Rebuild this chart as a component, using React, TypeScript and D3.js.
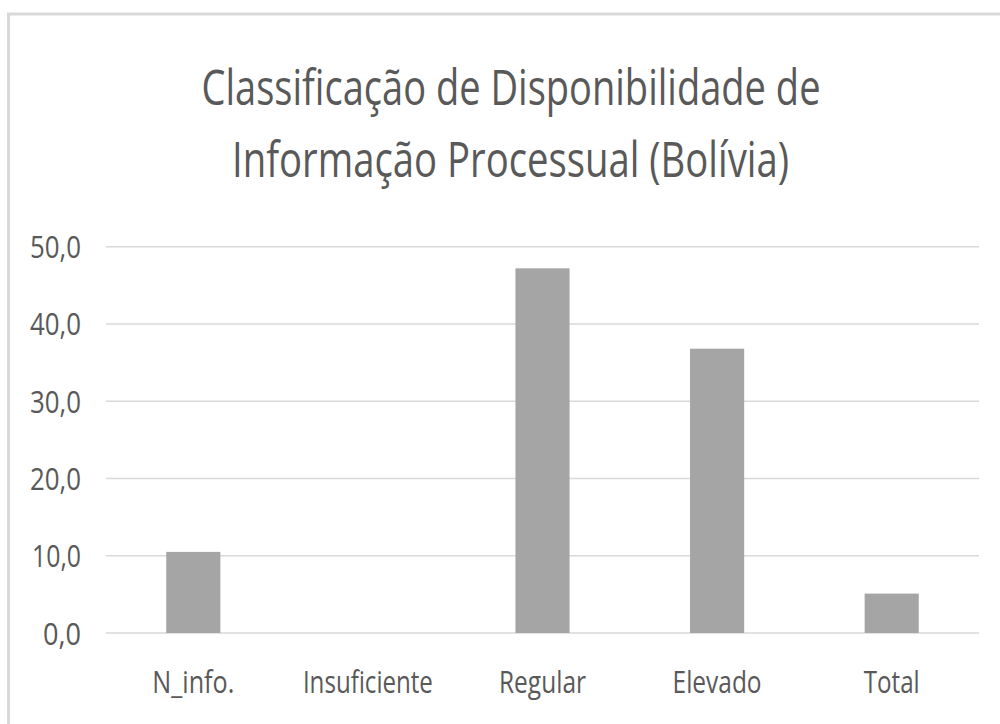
import React from "react";
import * as d3 from "d3";

const categories = ["N_info.", "Insuficiente", "Regular", "Elevado", "Total"];
const values = [10.5, 0, 47.2, 36.8, 5.1];
const yTicks = [0, 10, 20, 30, 40, 50];
const titleLines = ["Classificação de Disponibilidade de", "Informação Processual (Bolívia)"];
const labelWidths = [82, 130, 87, 89, 56];
const yLabelWidths = [38, 49, 51, 51, 51, 51];

const W = 1000;
const H = 724;
const textColor = "#595959";
const font = "'Open Sans', 'Noto Sans', sans-serif";

export default function App() {
  const x = d3.scaleBand<string>().domain(categories).range([106, 979]).padding(0);
  const y = d3.scaleLinear().domain([0, 50]).range([633, 246.7]);
  const barW = x.bandwidth() * 0.31;
  const fmt = (v: number) => d3.format(".1f")(v).replace(".", ",");

  return (
    <svg
      width={W}
      height={H}
      style={{ position: "absolute", left: 0, top: 0, background: "#fff" }}
    >
      <rect x={0} y={0} width={W} height={H} fill="#fff" />
      <rect x={8.5} y={14} width={1100} height={900} fill="none" stroke="#d9d9d9" strokeWidth={3} />
      <text
        x={511}
        y={105}
        textAnchor="middle"
        fontFamily={font}
        fontSize={50}
        fill={textColor}
        textLength={619}
        lengthAdjust="spacingAndGlyphs"
      >
        {titleLines[0]}
      </text>
      <text
        x={510.5}
        y={177}
        textAnchor="middle"
        fontFamily={font}
        fontSize={50}
        fill={textColor}
        textLength={557}
        lengthAdjust="spacingAndGlyphs"
      >
        {titleLines[1]}
      </text>
      {yTicks.map((t) => (
        <line
          key={"g" + t}
          x1={106}
          x2={979}
          y1={y(t)}
          y2={y(t)}
          stroke="#d9d9d9"
          strokeWidth={1.4}
        />
      ))}
      {yTicks.map((t, i) => (
        <text
          key={"yl" + t}
          x={81}
          y={y(t) + 11.5}
          textAnchor="end"
          fontFamily={font}
          fontSize={31}
          fill={textColor}
          textLength={yLabelWidths[i]}
          lengthAdjust="spacingAndGlyphs"
        >
          {fmt(t)}
        </text>
      ))}
      {categories.map((c, i) => {
        const cx = (x(c) as number) + x.bandwidth() / 2;
        return (
          <rect
            key={"b" + c}
            x={cx - barW / 2}
            y={y(values[i])}
            width={barW}
            height={y(0) - y(values[i])}
            fill="#a5a5a5"
          />
        );
      })}
      {categories.map((c, i) => {
        const cx = (x(c) as number) + x.bandwidth() / 2;
        return (
          <text
            key={"xl" + c}
            x={cx}
            y={693}
            textAnchor="middle"
            fontFamily={font}
            fontSize={31}
            fill={textColor}
            textLength={labelWidths[i]}
            lengthAdjust="spacingAndGlyphs"
          >
            {c}
          </text>
        );
      })}
    </svg>
  );
}
